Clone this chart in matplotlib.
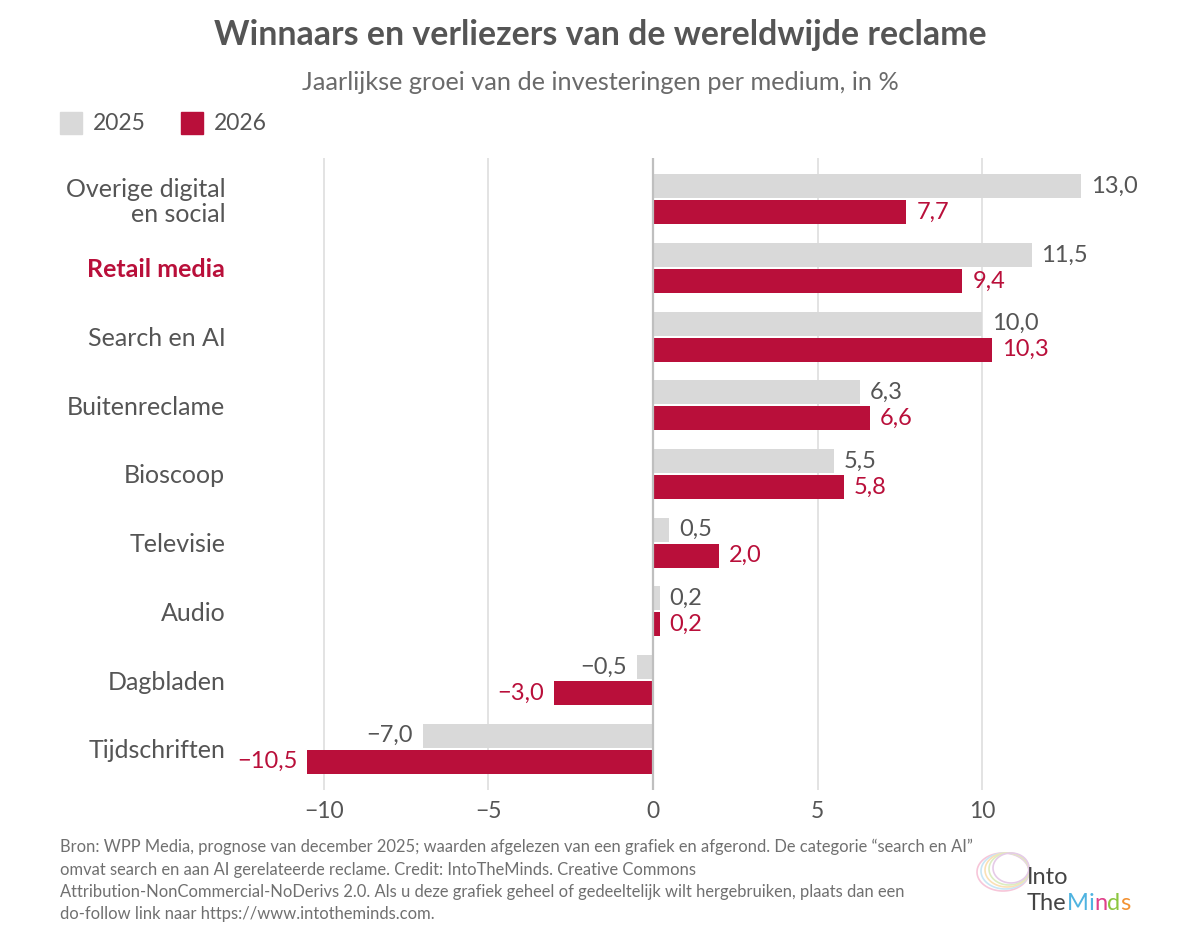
import matplotlib
matplotlib.use("Agg")
import matplotlib.pyplot as plt
import numpy as np

plt.rcParams['font.family'] = ['Lato', 'DejaVu Sans']

categories = ["Overige digital\nen social", "Retail media", "Search en AI", "Buitenreclame",
              "Bioscoop", "Televisie", "Audio", "Dagbladen", "Tijdschriften"]
values_2025 = [13.0, 11.5, 10.0, 6.3, 5.5, 0.5, 0.2, -0.5, -7.0]
values_2026 = [7.7, 9.4, 10.3, 6.6, 5.8, 2.0, 0.2, -3.0, -10.5]
series_labels = ["2025", "2026"]
xticks = [-10, -5, 0, 5, 10]
highlight = "Retail media"

GRAY = "#d9d9d9"
RED = "#b90f3a"
TXT = "#555555"

fig = plt.figure(figsize=(12, 9.44), dpi=100)
ax = fig.add_axes([235/1200, 1-790/944, (1150-235)/1200, (790-158)/944])

y = np.arange(len(categories))
h = 0.35
off = 0.19
ax.barh(y - off, values_2025, height=h, color=GRAY, zorder=2)
ax.barh(y + off, values_2026, height=h, color=RED, zorder=2)

ax.set_xlim(-12.7, 15.1)
ax.set_ylim(len(categories) - 0.4, -0.6)

for xv in xticks:
    if xv == 0:
        ax.axvline(0, color="#bfbfbf", lw=1.6, zorder=3)
    else:
        ax.axvline(xv, color="#e3e3e3", lw=1.4, zorder=1)

def fmt(v):
    s = f"{abs(v):.1f}".replace(".", ",")
    return ("\u2212" + s) if v < 0 else s

pad = 0.3
for i, (a, b) in enumerate(zip(values_2025, values_2026)):
    for v, yy, c in ((a, i - off, TXT), (b, i + off, RED)):
        if v >= 0:
            ax.text(v + pad, yy, fmt(v), ha="left", va="center", fontsize=17, color=c)
        else:
            ax.text(v - pad, yy, fmt(v), ha="right", va="center", fontsize=17, color=c)

ax.set_yticks(y)
ax.set_yticklabels(categories, fontsize=18, color=TXT, linespacing=1.12)
for lab in ax.get_yticklabels():
    if lab.get_text() == highlight:
        lab.set_color(RED)
        lab.set_fontweight("bold")
ax.tick_params(axis="y", length=0, pad=7)

ax.set_xticks(xticks)
ax.set_xticklabels([("\u2212" + str(abs(t))) if t < 0 else str(t) for t in xticks],
                   fontsize=16.5, color=TXT)
ax.tick_params(axis="x", length=0, pad=8)

for s in ax.spines.values():
    s.set_visible(False)

# Title and subtitle
fig.text(0.5, 1-35/944, "Winnaars en verliezers van de wereldwijde reclame", ha="center", va="center",
         fontsize=24.4, fontweight="bold", color=TXT)
fig.text(0.5, 1-82/944, "Jaarlijkse groei van de investeringen per medium, in %", ha="center", va="center",
         fontsize=18.2, color="#6a6a6a")

# Legend
for xs, lab, col in ((60, series_labels[0], GRAY), (181, series_labels[1], RED)):
    fig.patches.append(plt.Rectangle((xs/1200, 1-134/944), 22/1200, 22/944, transform=fig.transFigure,
                                     color=col, figure=fig))
    fig.text((xs + 33)/1200, 1-123/944, lab, ha="left", va="center", fontsize=16.5, color=TXT)

# Footer
footer = ["Bron: WPP Media, prognose van december 2025; waarden afgelezen van een grafiek en afgerond. De categorie \u201csearch en AI\u201d",
          "omvat search en aan AI gerelateerde reclame. Credit: IntoTheMinds. Creative Commons",
          "Attribution-NonCommercial-NoDerivs 2.0. Als u deze grafiek geheel of gedeeltelijk wilt hergebruiken, plaats dan een",
          "do-follow link naar https://www.intotheminds.com."]
for k, line in enumerate(footer):
    fig.text(60/1200, 1-(847 + 22.5*k)/944, line, ha="left", va="center", fontsize=11.9, color="#707070")

# Logo
fig.text(1027/1200, 1-877/944, "Into", ha="left", va="center", fontsize=17, color="#444444")
logo = [("The", "#444444"), ("M", "#4fb3e0"), ("i", "#4fb3e0"), ("n", "#e0408a"), ("d", "#8cc63f"), ("s", "#f39233")]
r = fig.canvas.get_renderer()
xpos = 1027/1200
for t, c in logo:
    tx = fig.text(xpos, 1-903/944, t, ha="left", va="center", fontsize=17, color=c)
    bb = tx.get_window_extent(renderer=r)
    xpos += bb.width/1200
theta = np.linspace(0, 2*np.pi, 200)
for k, col in enumerate(["#f7c6d9", "#c9e6f5", "#fbe0b5", "#dcedc1", "#e6cbe8"]):
    cx, cy = 1003 + k*2, 872 - k
    xs = (cx + (26 - k*2)*np.cos(theta)) / 1200
    ys = 1 - (cy + (19 - k)*np.sin(theta)) / 944
    fig.lines.append(plt.Line2D(xs, ys, transform=fig.transFigure, color=col, lw=1.2, zorder=0))

fig.savefig("out.png", dpi=100)
